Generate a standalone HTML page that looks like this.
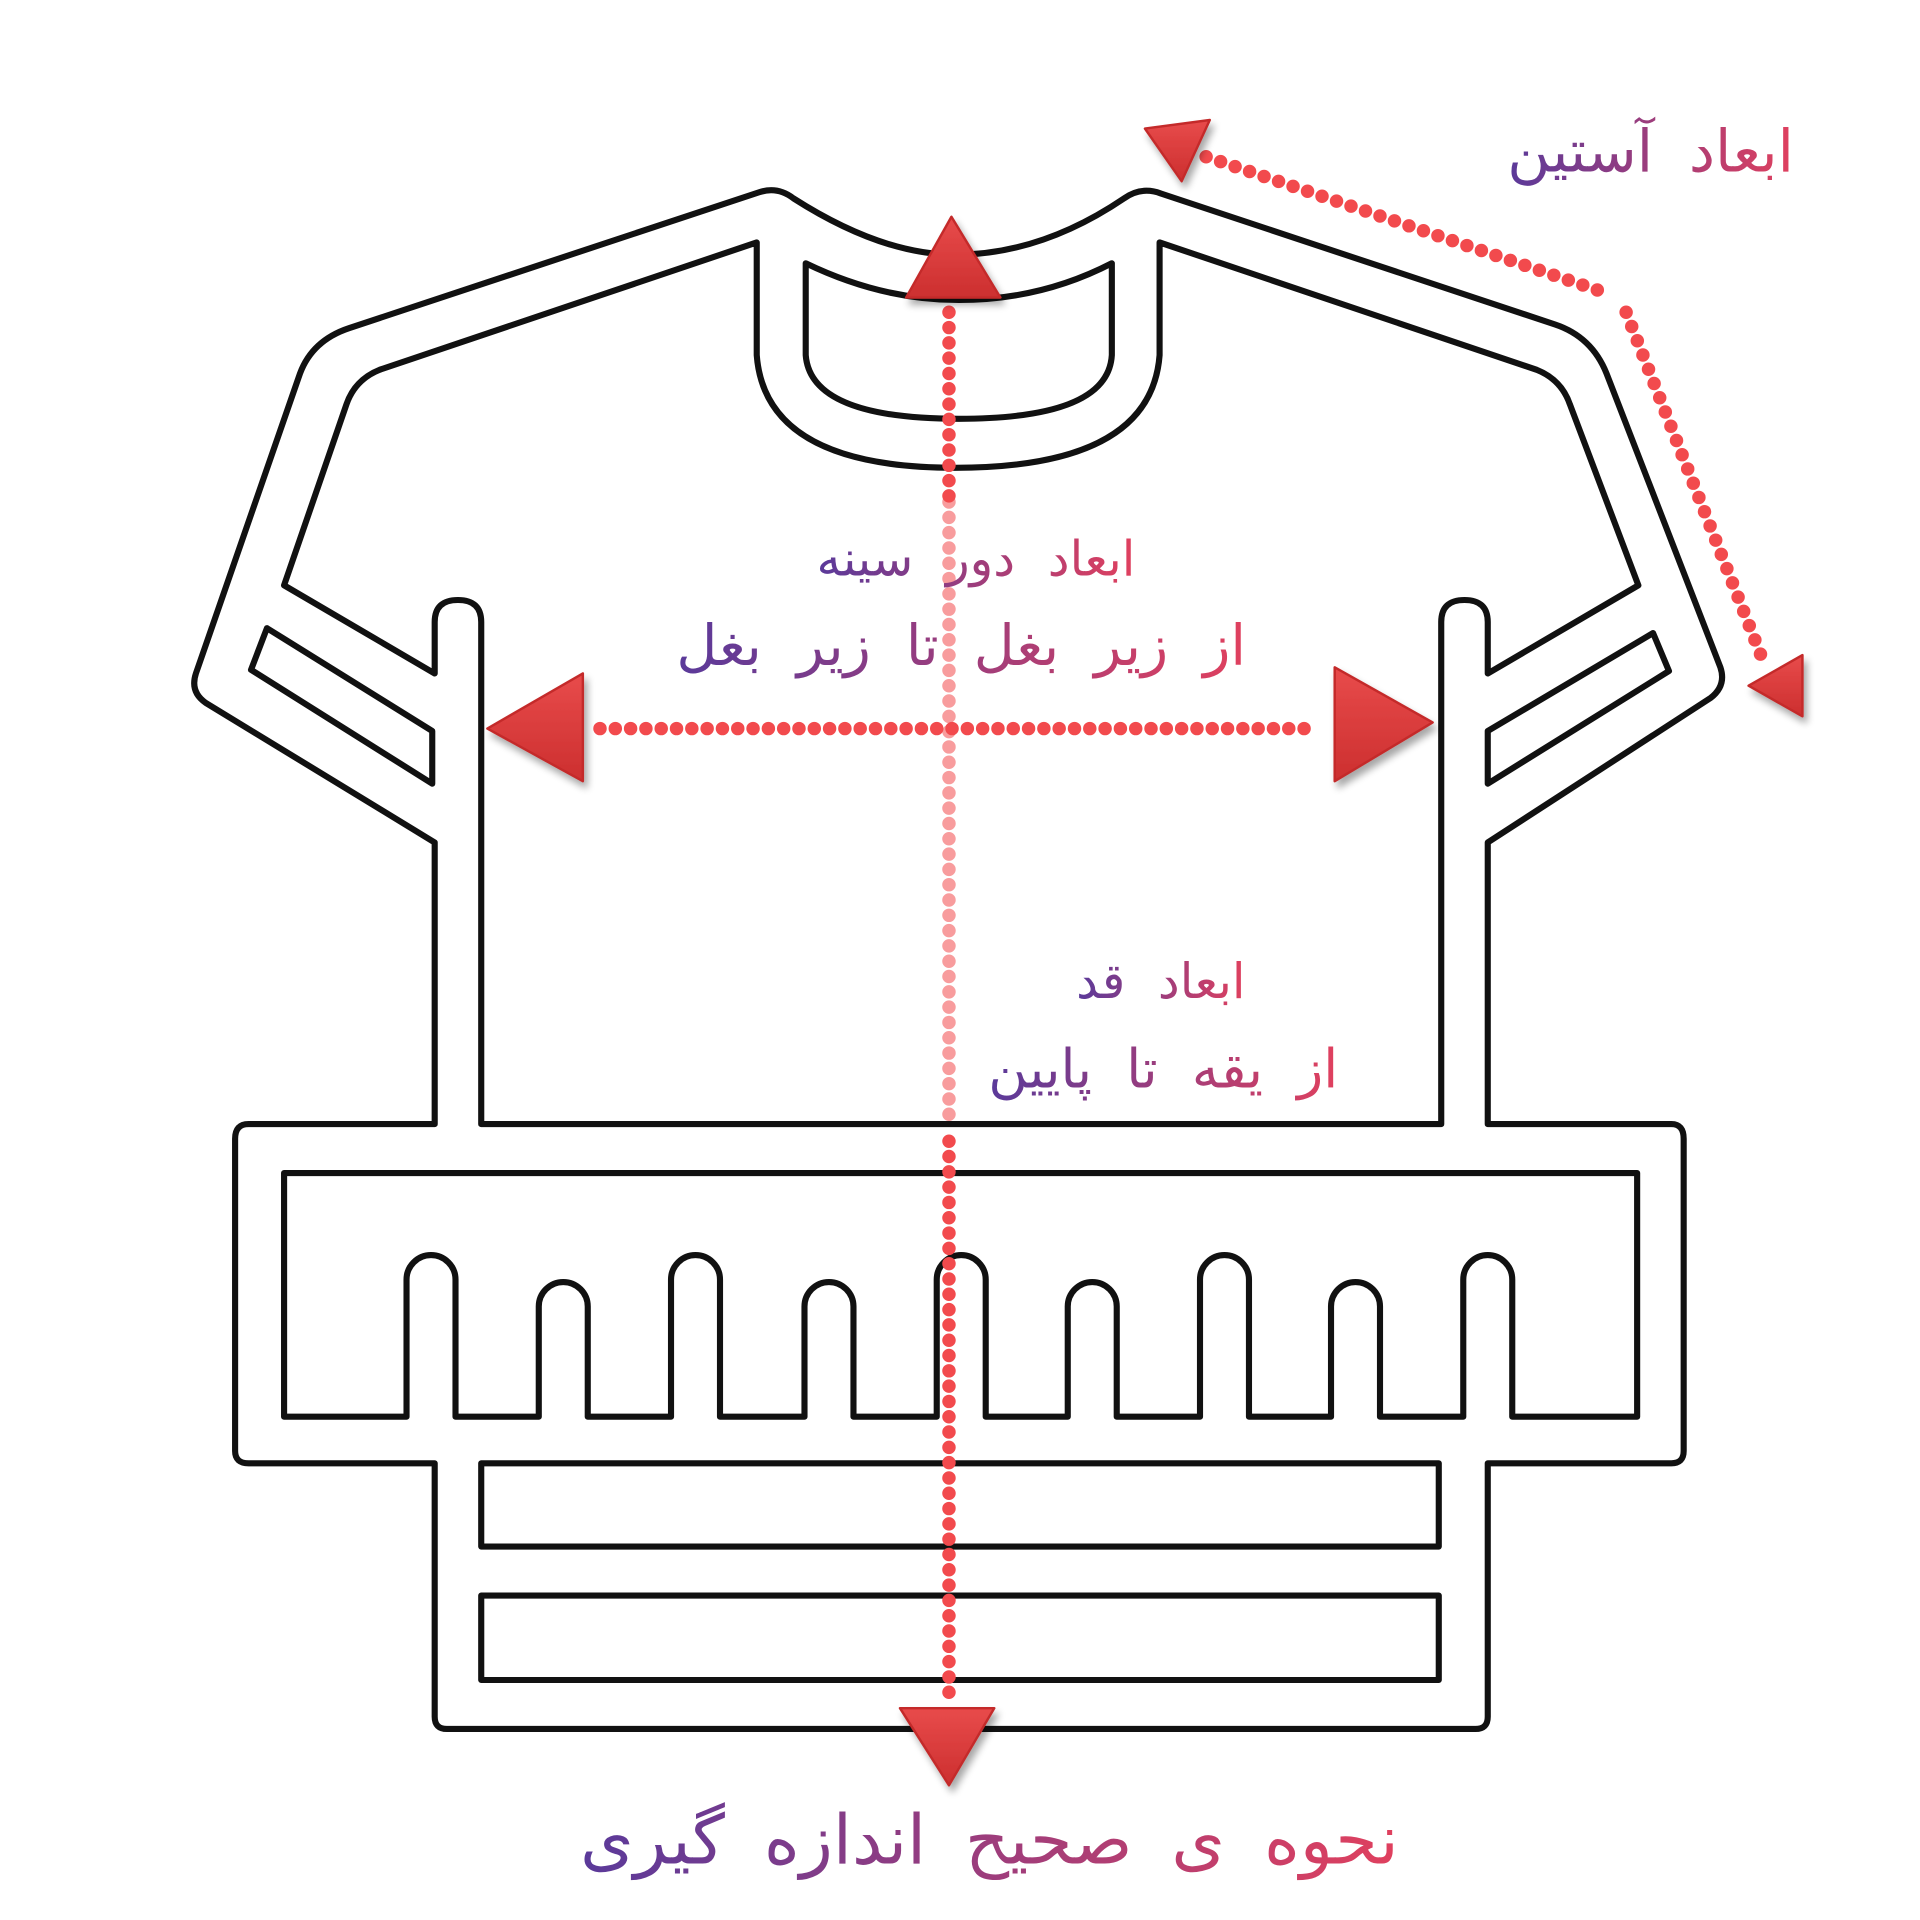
<!DOCTYPE html>
<html><head><meta charset="utf-8"><style>html,body{margin:0;padding:0;background:#fff}svg{display:block}</style></head>
<body>
<svg width="1920" height="1920" viewBox="0 0 1568 1568" xmlns="http://www.w3.org/2000/svg">
<defs>
<linearGradient id="tg" x1="1" y1="0" x2="0" y2="0"><stop offset="0" stop-color="#e0405e"/><stop offset="1" stop-color="#5a3a9a"/></linearGradient>
<linearGradient id="rg" x1="0" y1="0" x2="0" y2="1"><stop offset="0" stop-color="#e84b4b"/><stop offset="1" stop-color="#cc2f2f"/></linearGradient>
<filter id="sh" x="-10%" y="-10%" width="120%" height="120%"><feGaussianBlur in="SourceAlpha" stdDeviation="3"/><feOffset dx="3" dy="5"/><feComponentTransfer><feFuncA type="linear" slope="0.35"/></feComponentTransfer><feMerge><feMergeNode/><feMergeNode in="SourceGraphic"/></feMerge></filter>
</defs>
<g fill="none" stroke="#111" stroke-width="5" stroke-linejoin="round">
<path d="M355,918 V688 L168,574 Q155,565 160,550 L245,305 Q255,278 285,268 L620,157 Q635,152 648,162 Q720,208 780,208 Q850,208 918,162 Q932,152 948,158 L1270,265 Q1300,275 1312,305 L1405,545 Q1410,560 1397,570 L1215,688 V918 H1365 Q1375,918 1375,930 V1185 Q1375,1195 1365,1195 H1215 V1402 Q1215,1412 1205,1412 H365 Q355,1412 355,1402 V1195 H203 Q192,1195 192,1185 V930 Q192,918 203,918 Z"/>
<path d="M393,918 V508 Q393,490 374,490 Q355,490 355,508 V550 L232,478 L283,330 Q290,310 310,302 L618,198 V290 Q625,382 780,382 Q940,382 947,290 V198 L1255,302 Q1275,310 1282,330 L1338,478 L1215,550 V508 Q1215,490 1196,490 Q1177,490 1177,508 V918 Z"/>
<path d="M658,215 Q720,245 783,245 Q850,245 908,215 V290 Q905,342 783,342 Q662,342 658,290 Z"/>
<path d="M205,547 L218,513 L353,597 V640 Z"/>
<path d="M1215,597 L1350,517 L1363,548 L1215,640 Z"/>
<path d="M232,958 H1337 V1157 H1235 V1045 A20,20 0 0 0 1195,1045 V1157 H1127 V1067 A20,20 0 0 0 1087,1067 V1157 H1020 V1045 A20,20 0 0 0 980,1045 V1157 H912 V1067 A20,20 0 0 0 872,1067 V1157 H805 V1045 A20,20 0 0 0 765,1045 V1157 H697 V1067 A20,20 0 0 0 657,1067 V1157 H588 V1045 A20,20 0 0 0 548,1045 V1157 H480 V1067 A20,20 0 0 0 440,1067 V1157 H372 V1045 A20,20 0 0 0 332,1045 V1157 H232 Z"/>
<rect x="393" y="1195" width="782" height="68"/>
<rect x="393" y="1303" width="782" height="69"/>
</g>
<g stroke="#f24a4d" stroke-width="11" stroke-linecap="round" fill="none" stroke-dasharray="0 12.5">
<line x1="775" y1="255" x2="775" y2="410"/>
<line x1="775" y1="410" x2="775" y2="920" stroke-opacity="0.55"/>
<line x1="775" y1="932" x2="775" y2="1390"/>
<line x1="490" y1="595" x2="1072" y2="595"/>
<line x1="985" y1="128" x2="1305" y2="237"/>
<line x1="1328" y1="255" x2="1440" y2="540"/>
</g>
<g fill="url(#rg)" filter="url(#sh)" stroke="#c42a2a" stroke-width="2" stroke-linejoin="round">
<polygon points="777,177 740,243 817,243"/>
<polygon points="735,1395 812,1395 775,1458"/>
<polygon points="398,595 476,550 476,638"/>
<polygon points="1170,590 1090,545 1090,638"/>
<polygon points="935,105 988,98 965,148"/>
<polygon points="1472,535 1472,585 1428,560"/>
</g>
<g fill="url(#tg)" font-family="'DejaVu Sans', sans-serif" text-anchor="middle" direction="rtl" word-spacing="14">
<text x="1348" y="140" font-size="48">ابعاد آستین</text>
<text x="797" y="470" font-size="40">ابعاد دور سینه</text>
<text x="785" y="543" font-size="46">از زیر بغل تا زیر بغل</text>
<text x="948" y="815" font-size="40">ابعاد قد</text>
<text x="950" y="888" font-size="44">از یقه تا پایین</text>
<text x="808" y="1522" font-size="56">نحوه ی صحیح اندازه گیری</text>
</g>
</svg>
</body></html>
